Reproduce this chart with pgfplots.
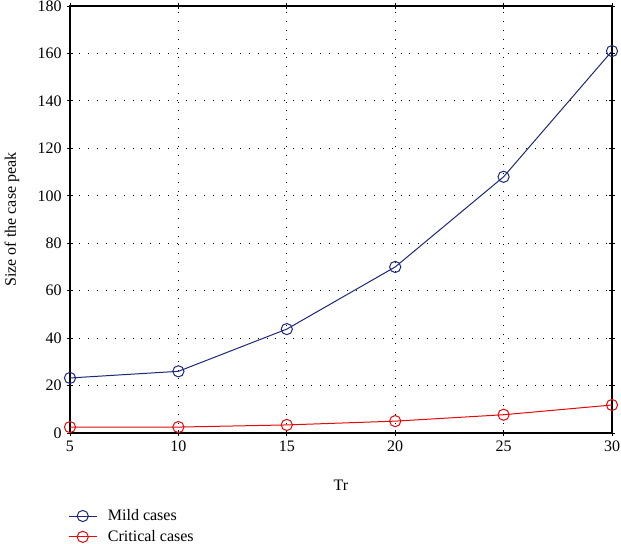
\documentclass[border=0pt]{standalone}
\usepackage{pgfplots}
\pgfplotsset{compat=1.18}
\usepackage{fontspec}
\setmainfont{Liberation Serif}
\definecolor{mild}{RGB}{30,40,120}
\definecolor{crit}{RGB}{228,10,10}
\begin{document}
\fontsize{12pt}{14pt}\selectfont
\begin{tikzpicture}
\path[use as bounding box] (-52.5pt,-82.5pt) rectangle (413.25pt,324.75pt);
\begin{axis}[
  width=406.5pt, height=320.25pt, scale only axis,
  xmin=5, xmax=30, ymin=0, ymax=180,
  xtick={5,10,...,30}, ytick={0,20,...,180},
  minor x tick num=4,
  tick align=center,
  major tick length=4pt, minor tick length=2pt,
  minor tick style={gray!70},
  tick style={black, line width=0.6pt},
  axis line style={line width=0.8pt},
  grid=major,
  major grid style={black, line width=0.7pt, dash pattern=on 0.7pt off 6pt},
  /pgf/number format/assume math mode=true,
  tick label style={font=\fontsize{12pt}{14pt}\selectfont},
  xlabel={Tr},
  ylabel={Size of the case peak},
  label style={font=\fontsize{12pt}{14pt}\selectfont},
  xlabel style={at={(axis description cs:0.5,-0.1218)}, anchor=center},
  ylabel style={at={(axis description cs:-0.107,0.5)}, anchor=center},
  legend style={at={(axis description cs:0,0)}, anchor=north west,
    xshift=-4.5pt, yshift=-53pt, draw=none, fill=none,
    row sep=1.5pt, font=\fontsize{12pt}{14pt}\selectfont},
  legend cell align=left,
  legend image code/.code={\draw[mark repeat=2,mark phase=2] plot coordinates {(0pt,0pt)(10.5pt,0pt)(21pt,0pt)};
    \path (27pt,0pt);},
  every axis plot/.append style={line width=0.75pt, mark=o, mark size=4.2pt},
]
\addplot[color=mild] coordinates {
(5,23.2)
(10,26)
(15,43.8)
(20,70)
(25,108)
(30,161)
};
\addplot[color=crit] coordinates {
(5,2.5)
(10,2.5)
(15,3.4)
(20,5)
(25,7.7)
(30,11.8)
};
\legend{Mild cases,Critical cases}
\end{axis}
\end{tikzpicture}
\end{document}
